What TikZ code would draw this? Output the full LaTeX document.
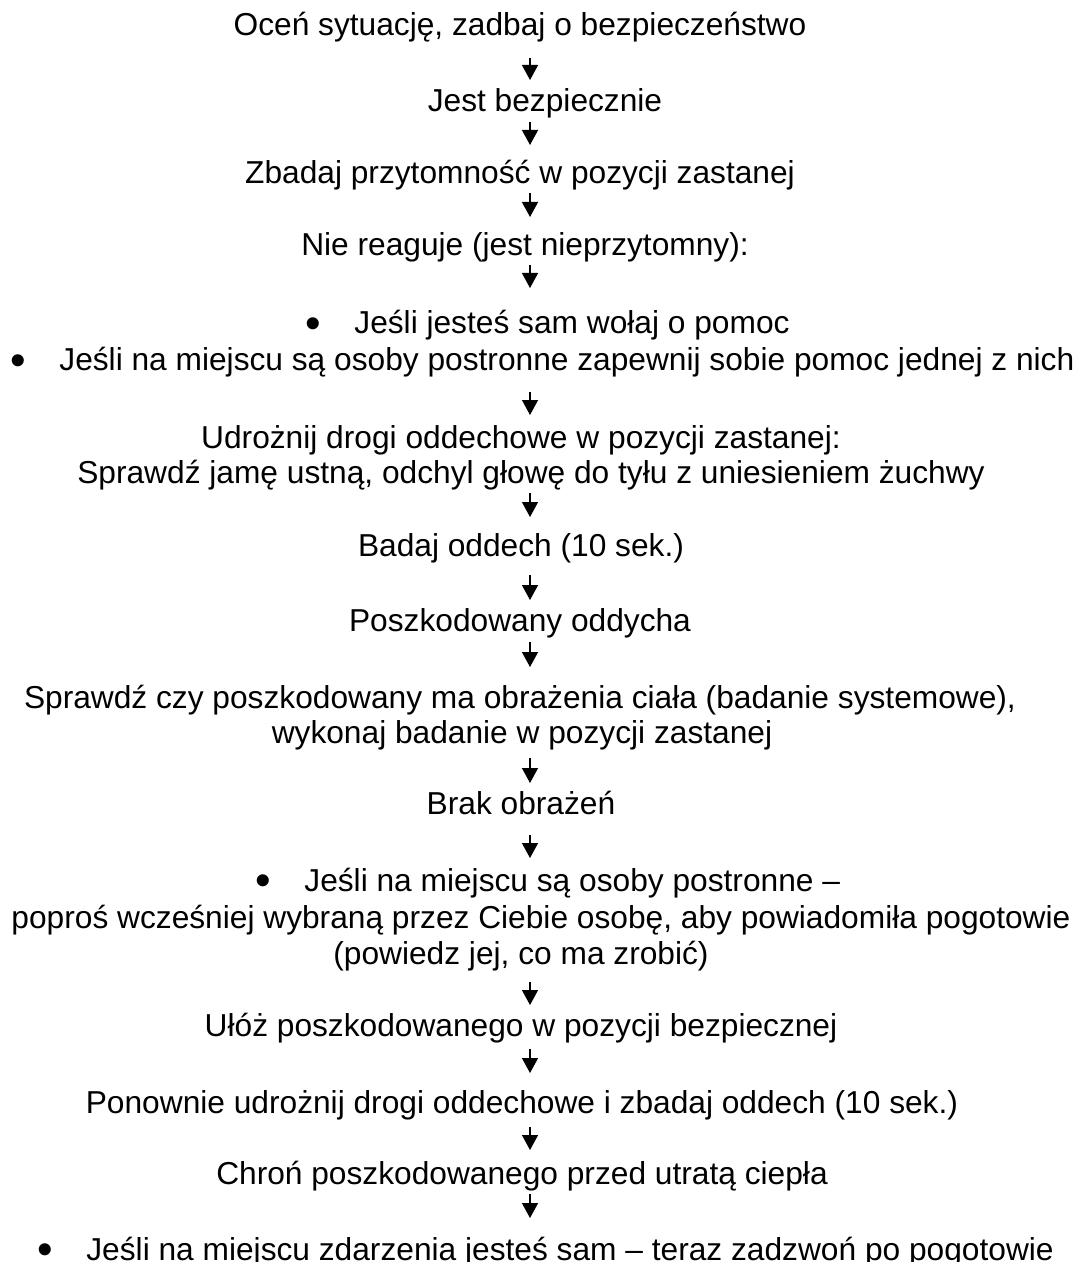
\documentclass[tikz,border=0pt]{standalone}
\usepackage{fontspec}
\setmainfont{Liberation Sans}
\usetikzlibrary{arrows.meta,calc}

\tikzset{
  txt/.style={anchor=base,inner sep=0pt,font=\fontsize{15.85pt}{18.5pt}\selectfont},
  item/.style={txt,anchor=base west},
  flow/.style={line width=0.65pt,-{Triangle[length=7.5pt,width=8pt]}}
}
\newcommand{\bul}{\makebox[24.5pt][l]{\raisebox{-2.2pt}{\scalebox{1.4}{\textbullet}}}}

\begin{document}
\begin{tikzpicture}[x=0.5pt,y=0.5pt,yscale=-1,xscale=1]
        \useasboundingbox (0,0) rectangle (1083,1262);
        \coordinate (ax) at (530,0);

        \node (ocen) [txt] at (520,36) {Oceń sytuację, zadbaj o bezpieczeństwo};
        \node (bezp) [txt] at (545,112) {Jest bezpiecznie};
        \node (przyt) [txt] at (520,184) {Zbadaj przytomność w pozycji zastanej};
        \node (niereag) [txt] at (525,256) {Nie reaguje (jest nieprzytomny):};
        \node (sam) [item] at (305,334) {\bul Jeśli jesteś sam wołaj o pomoc};
        \node (osoby) [item] at (10,371) {\bul Jeśli na miejscu są osoby postronne zapewnij sobie pomoc jednej z nich};
        \node (udr) [txt] at (521,448) {Udrożnij drogi oddechowe w pozycji zastanej:};
        \node (jama) [txt] at (531,483) {Sprawdź jamę ustną, odchyl głowę do tyłu z uniesieniem żuchwy};
        \node (oddech) [txt] at (521,556) {Badaj oddech (10 sek.)};
        \node (oddycha) [txt] at (520,631) {Poszkodowany oddycha};
        \node (obraz) [txt] at (520,708) {Sprawdź czy poszkodowany ma obrażenia ciała (badanie systemowe),};
        \node (wykonaj) [txt] at (522,743) {wykonaj badanie w pozycji zastanej};
        \node (brak) [txt] at (521,814) {Brak obrażeń};
        \node (postr) [item] at (255,891) {\bul Jeśli na miejscu są osoby postronne –};
        \node (popros) [txt] at (541,928) {poproś wcześniej wybraną przez Ciebie osobę, aby powiadomiła pogotowie};
        \node (powiedz) [txt] at (521,964) {(powiedz jej, co ma zrobić)};
        \node (uloz) [txt] at (521,1036) {Ułóż poszkodowanego w pozycji bezpiecznej};
        \node (ponow) [txt] at (522,1113) {Ponownie udrożnij drogi oddechowe i zbadaj oddech (10 sek.)};
        \node (chron) [txt] at (522,1184) {Chroń poszkodowanego przed utratą ciepła};
        \node (zadzwon) [item] at (37,1260) {\bul Jeśli na miejscu zdarzenia jesteś sam – teraz zadzwoń po pogotowie};

        \draw [flow] ($(ocen.base -| ax)+(0,22)$) -- ($(bezp.base -| ax)+(0,-32)$);
        \draw [flow] ($(bezp.base -| ax)+(0,10)$) -- ($(przyt.base -| ax)+(0,-39)$);
        \draw [flow] ($(przyt.base -| ax)+(0,9)$) -- ($(niereag.base -| ax)+(0,-39)$);
        \draw [flow] ($(niereag.base -| ax)+(0,9)$) -- ($(sam.base -| ax)+(0,-46)$);
        \draw [flow] ($(osoby.base -| ax)+(0,21)$) -- ($(udr.base -| ax)+(0,-33)$);
        \draw [flow] ($(jama.base -| ax)+(0,10)$) -- ($(oddech.base -| ax)+(0,-39)$);
        \draw [flow] ($(oddech.base -| ax)+(0,19)$) -- ($(oddycha.base -| ax)+(0,-31)$);
        \draw [flow] ($(oddycha.base -| ax)+(0,11)$) -- ($(obraz.base -| ax)+(0,-41)$);
        \draw [flow] ($(wykonaj.base -| ax)+(0,15)$) -- ($(brak.base -| ax)+(0,-31)$);
        \draw [flow] ($(brak.base -| ax)+(0,21)$) -- ($(postr.base -| ax)+(0,-33)$);
        \draw [flow] ($(powiedz.base -| ax)+(0,18)$) -- ($(uloz.base -| ax)+(0,-31)$);
        \draw [flow] ($(uloz.base -| ax)+(0,13)$) -- ($(ponow.base -| ax)+(0,-40)$);
        \draw [flow] ($(ponow.base -| ax)+(0,14)$) -- ($(chron.base -| ax)+(0,-34)$);
        \draw [flow] ($(chron.base -| ax)+(0,10)$) -- ($(zadzwon.base -| ax)+(0,-42)$);
\end{tikzpicture}
\end{document}
